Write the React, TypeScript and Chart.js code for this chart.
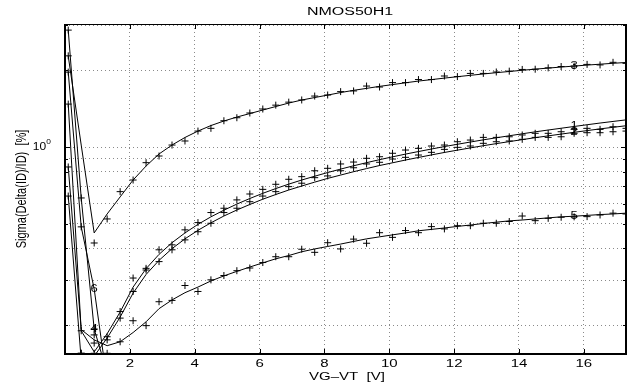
import React, { useEffect, useRef } from 'react';
import { Chart, registerables } from 'chart.js';

Chart.register(...registerables);

// ---------- data ----------
const X_VALUES = [
  0.1, 0.5, 0.9, 1.3, 1.7, 2.1, 2.5, 2.9, 3.3, 3.7, 4.1, 4.5, 4.9, 5.3, 5.7,
  6.1, 6.5, 6.9, 7.3, 7.7, 8.1, 8.5, 8.9, 9.3, 9.7, 10.1, 10.5, 10.9, 11.3,
  11.7, 12.1, 12.5, 12.9, 13.3, 13.7, 14.1, 14.5, 14.9, 15.3, 15.7, 16.1,
  16.5, 16.9, 17.3,
];

// curve 3 (top)
const C3_FIT = [
  2.275, 1.018, 0.46, 0.546, 0.637, 0.742, 0.842, 0.939, 1.018, 1.09, 1.155,
  1.214, 1.265, 1.311, 1.353, 1.397, 1.442, 1.488, 1.529, 1.564, 1.599, 1.636,
  1.669, 1.699, 1.73, 1.758, 1.787, 1.815, 1.839, 1.864, 1.888, 1.912, 1.935,
  1.958, 1.979, 2.001, 2.021, 2.041, 2.06, 2.078, 2.097, 2.114, 2.131, 2.147,
];
const C3_MEAS = [
  2.28, null, 0.42, 0.522, 0.668, 0.742, 0.868, 0.922, 1.018, 1.056, 1.155,
  1.184, 1.268, 1.303, 1.36, 1.41, 1.46, 1.5, 1.53, 1.585, 1.6, 1.65, 1.66,
  1.735, 1.72, 1.79, 1.79, 1.84, 1.84, 1.9, 1.89, 1.945, 1.945, 1.97, 1.985,
  2.016, 2.02, 2.045, 2.07, 2.08, 2.11, 2.1, 2.15, 2.13,
];

// curve 1 (middle, upper)
const C1_FIT = [
  1.474, 0.19, 0.157, 0.185, 0.225, 0.282, 0.333, 0.379, 0.421, 0.46, 0.497,
  0.532, 0.565, 0.597, 0.628, 0.658, 0.687, 0.715, 0.742, 0.768, 0.794, 0.819,
  0.844, 0.868, 0.892, 0.915, 0.938, 0.96, 0.982, 1.004, 1.025, 1.046, 1.067,
  1.087, 1.107, 1.127, 1.147, 1.166, 1.185, 1.204, 1.223, 1.242, 1.26, 1.278,
];
const C1_MEAS = [
  1.474, 0.19, 0.183, 0.18, 0.226, 0.306, 0.334, 0.395, 0.413, 0.473, 0.505,
  0.553, 0.575, 0.62, 0.654, 0.682, 0.714, 0.747, 0.765, 0.807, 0.825, 0.858,
  0.873, 0.903, 0.916, 0.945, 0.973, 0.988, 1.009, 1.018, 1.049, 1.065, 1.091,
  1.091, 1.097, 1.115, 1.132, 1.132, 1.148, 1.173, 1.184, 1.173, 1.201, 1.184,
];

// curve 2 (middle, lower)
const C2_FIT = [
  0.642, 0.146, 0.151, 0.178, 0.215, 0.267, 0.316, 0.359, 0.399, 0.436, 0.471,
  0.504, 0.536, 0.566, 0.595, 0.624, 0.651, 0.678, 0.703, 0.728, 0.753, 0.776,
  0.8, 0.823, 0.846, 0.867, 0.889, 0.91, 0.931, 0.952, 0.972, 0.992, 1.012,
  1.031, 1.05, 1.069, 1.088, 1.106, 1.124, 1.142, 1.16, 1.178, 1.195, 1.212,
];
const C2_MEAS = [
  0.642, 0.155, 0.17, 0.155, 0.213, 0.271, 0.329, 0.355, 0.395, 0.432, 0.465,
  0.502, 0.553, 0.575, 0.61, 0.642, 0.668, 0.699, 0.721, 0.758, 0.77, 0.807,
  0.829, 0.858, 0.871, 0.897, 0.911, 0.93, 0.953, 0.979, 0.997, 1.009, 1.034,
  1.049, 1.056, 1.072, 1.091, 1.091, 1.097, 1.132, 1.138, 1.138, 1.148, 1.155,
];

// curve 5 (bottom)
const C5_FIT = [
  0.835, 0.192, 0.175, 0.166, 0.172, 0.187, 0.206, 0.232, 0.251, 0.268, 0.282,
  0.298, 0.312, 0.325, 0.338, 0.351, 0.364, 0.375, 0.388, 0.398, 0.407, 0.416,
  0.426, 0.436, 0.444, 0.452, 0.46, 0.469, 0.475, 0.481, 0.488, 0.494, 0.501,
  0.507, 0.513, 0.517, 0.522, 0.527, 0.532, 0.535, 0.539, 0.543, 0.546, 0.55,
];
const C5_MEAS = [
  0.835, 0.155, 0.155, 0.175, 0.172, 0.208, 0.199, 0.247, 0.25, 0.286, 0.271,
  0.301, 0.313, 0.327, 0.335, 0.352, 0.371, 0.371, 0.397, 0.386, 0.421, 0.398,
  0.435, 0.419, 0.461, 0.442, 0.47, 0.461, 0.487, 0.477, 0.491, 0.491, 0.502,
  0.502, 0.51, 0.536, 0.514, 0.525, 0.53, 0.532, 0.533, 0.541, 0.55, 0.546,
];

// curves 4 and 6 (short, low VG-VT only)
const C4_FIT = [2.877, 0.631, 0.193, 0.13];
const C4_MEAS = [2.877, 0.631, 0.193, null];
const C6_FIT = [1.968, 0.486, 0.277, 0.12];
const C6_MEAS = [1.968, 0.486, null, null];

const X_TICKS = [2, 4, 6, 8, 10, 12, 14, 16];
const Y_GRID = [0.2, 0.3, 0.4, 0.5, 0.6, 0.7, 0.8, 0.9, 1, 2, 3];
const Y_MIN = 0.154;
const Y_MAX = 3.04;
const X_MIN = 0;
const X_MAX = 17.3;

const TITLE = 'NMOS50H1';
const X_TITLE = 'VG\u2013VT  [V]';
const Y_TITLE = 'Sigma(Delta(ID)/ID)  [%]';

// curve label: text, fit-dataset name, point index
const CURVE_LABELS: [string, string, number][] = [
  ['3', 'c3', 39],
  ['1', 'c1', 39],
  ['2', 'c2', 39],
  ['5', 'c5', 39],
  ['4', 'c4', 2],
  ['6', 'c6', 2],
];

const FONT = "'Liberation Sans', Arial, Helvetica, sans-serif";

function pts(ys: (number | null)[]) {
  const out: { x: number; y: number }[] = [];
  ys.forEach((y, i) => {
    if (y != null) out.push({ x: X_VALUES[i], y });
  });
  return out;
}

function fitSet(id: string, ys: (number | null)[]) {
  return {
    label: id,
    data: pts(ys),
    showLine: true,
    borderColor: '#000',
    borderWidth: 1,
    pointRadius: 0,
    tension: 0,
    fill: false,
  };
}

function measSet(id: string, ys: (number | null)[]) {
  return {
    label: id + 'm',
    data: pts(ys),
    showLine: false,
    pointStyle: 'cross',
    pointRadius: 3.5,
    pointBorderColor: '#000',
    pointBorderWidth: 1,
    borderColor: '#000',
  };
}

function stretchedText(
  ctx: CanvasRenderingContext2D,
  text: string,
  x: number,
  y: number,
  size: number,
  sx: number,
  rotate = false,
) {
  ctx.save();
  ctx.translate(x, y);
  if (rotate) {
    ctx.rotate(-Math.PI / 2);
    ctx.scale(1, sx);
  } else {
    ctx.scale(sx, 1);
  }
  ctx.font = `${size}px ${FONT}`;
  ctx.fillStyle = '#000';
  ctx.textAlign = 'center';
  ctx.textBaseline = 'middle';
  ctx.fillText(text, 0, 0);
  ctx.restore();
}

const decorPlugin = {
  id: 'decor',
  afterDraw(chart: any) {
    const ctx: CanvasRenderingContext2D = chart.ctx;
    const { left, right, top, bottom } = chart.chartArea;
    const xs = chart.scales.x;
    const ys = chart.scales.y;

    ctx.save();
    // frame
    ctx.strokeStyle = '#000';
    ctx.lineWidth = 2;
    ctx.beginPath();
    ctx.moveTo(left, top);
    ctx.lineTo(left, bottom);
    ctx.lineTo(right, bottom);
    ctx.lineTo(right, top);
    ctx.stroke();
    ctx.lineWidth = 1;
    ctx.beginPath();
    ctx.moveTo(left, top + 0.5);
    ctx.lineTo(right, top + 0.5);
    ctx.stroke();

    // inward ticks
    ctx.lineWidth = 1;
    ctx.beginPath();
    X_TICKS.forEach((v) => {
      const px = Math.round(xs.getPixelForValue(v)) + 0.5;
      ctx.moveTo(px, bottom);
      ctx.lineTo(px, bottom - 5);
      ctx.moveTo(px, top);
      ctx.lineTo(px, top + 5);
    });
    Y_GRID.forEach((v) => {
      const py = Math.round(ys.getPixelForValue(v)) + 0.5;
      const len = v === 1 ? 5 : 3;
      ctx.moveTo(left, py);
      ctx.lineTo(left + len, py);
      ctx.moveTo(right, py);
      ctx.lineTo(right - len, py);
    });
    ctx.stroke();

    // x tick labels
    X_TICKS.forEach((v) => {
      stretchedText(ctx, String(v), xs.getPixelForValue(v), 364.5, 10, 1.5);
    });

    // y tick label 10^0
    const py1 = ys.getPixelForValue(1);
    stretchedText(ctx, '10', 39.5, py1, 10, 1.2);
    stretchedText(ctx, '0', 48.5, py1 - 4.5, 7, 1.2);

    // curve labels
    CURVE_LABELS.forEach(([txt, id, idx]) => {
      const di = chart.data.datasets.findIndex((d: any) => d.label === id);
      const meta = chart.getDatasetMeta(di);
      const el = meta.data[idx];
      if (el) stretchedText(ctx, txt, el.x, el.y, 10, 1.3);
    });

    // titles
    stretchedText(ctx, TITLE, 350, 12, 10, 1.6);
    stretchedText(ctx, X_TITLE, 347, 377, 10, 1.5);
    stretchedText(ctx, Y_TITLE, 21.5, 189, 11, 1.4, true);
    ctx.restore();
  },
};

export default function App() {
  const ref = useRef<HTMLCanvasElement | null>(null);

  useEffect(() => {
    if (!ref.current) return;
    const chart = new Chart(ref.current, {
      type: 'scatter',
      data: {
        datasets: [
          fitSet('c3', C3_FIT),
          fitSet('c1', C1_FIT),
          fitSet('c2', C2_FIT),
          fitSet('c5', C5_FIT),
          fitSet('c4', C4_FIT),
          fitSet('c6', C6_FIT),
          measSet('c3', C3_MEAS),
          measSet('c1', C1_MEAS),
          measSet('c2', C2_MEAS),
          measSet('c5', C5_MEAS),
          measSet('c4', C4_MEAS),
          measSet('c6', C6_MEAS),
        ] as any,
      },
      options: {
        animation: false,
        responsive: false,
        devicePixelRatio: 1,
        events: [],
        layout: { padding: { left: 0, right: 3, top: 24, bottom: 0 } },
        plugins: {
          legend: { display: false },
          title: { display: false },
          tooltip: { enabled: false },
        },
        scales: {
          x: {
            type: 'linear',
            min: X_MIN,
            max: X_MAX,
            ticks: { display: false },
            grid: { color: '#8a8a8a', lineWidth: 1, drawTicks: false },
            border: { display: false, dash: [1, 3] },
            afterBuildTicks: (s: any) => {
              s.ticks = X_TICKS.map((v) => ({ value: v }));
            },
            afterFit: (s: any) => {
              s.height = 29;
            },
          },
          y: {
            type: 'logarithmic',
            min: Y_MIN,
            max: Y_MAX,
            ticks: { display: false },
            grid: { color: '#8a8a8a', lineWidth: 1, drawTicks: false },
            border: { display: false, dash: [1, 3] },
            afterBuildTicks: (s: any) => {
              s.ticks = Y_GRID.map((v) => ({ value: v }));
            },
            afterFit: (s: any) => {
              s.width = 65;
            },
          },
        },
      } as any,
      plugins: [decorPlugin],
    });
    return () => chart.destroy();
  }, []);

  return (
    <div style={{ position: 'absolute', left: 0, top: 0, width: 631, height: 383, background: '#fff' }}>
      <canvas ref={ref} width={631} height={383} style={{ display: 'block', width: 631, height: 383 }} />
    </div>
  );
}
